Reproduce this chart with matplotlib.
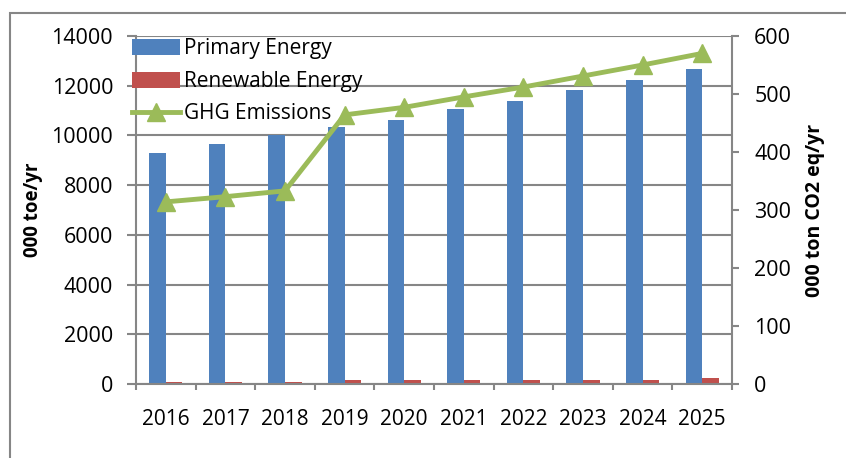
import numpy as np
import matplotlib.pyplot as plt
from matplotlib.patches import Rectangle

# Data
years = ["2016", "2017", "2018", "2019", "2020", "2021", "2022", "2023", "2024", "2025"]
primary_energy = [9300, 9650, 10000, 10350, 10620, 11070, 11400, 11830, 12230, 12670]
renewable_energy = [80, 80, 80, 160, 160, 160, 160, 160, 160, 255]
ghg_emissions = [314, 323, 333, 464, 477, 495, 512, 531, 550, 570]

blue = "#4F81BD"
red = "#C0504D"
green = "#9BBB59"
grey = "#868686"

plt.rcParams["font.family"] = ["Open Sans", "DejaVu Sans"]

fig = plt.figure(figsize=(8.46, 4.58), dpi=100)
W, H = 846, 458

# Outer chart frame (partially off the image on the right/bottom)
fig.patches.append(Rectangle((10 / W, -0.1), 1.2, 1 - 13 / H + 0.1,
                             transform=fig.transFigure, fill=False,
                             edgecolor=grey, lw=1.5))

ax = fig.add_axes([136 / W, 1 - 384 / H, (732 - 136) / W, (384 - 36) / H])
x = np.arange(len(years))
w = 0.28
b1 = ax.bar(x - w / 2, primary_energy, w, color=blue, label="Primary Energy", zorder=2)
b2 = ax.bar(x + w / 2, renewable_energy, w, color=red, label="Renewable Energy", zorder=2)

ax.set_xlim(-0.5, len(years) - 0.5)
ax.set_ylim(0, 14000)
ax.set_yticks(np.arange(0, 14001, 2000))
ax.set_xticks(x)
ax.set_xticklabels(years)
ax.set_xticks(np.arange(-0.5, len(years), 1), minor=True)
ax.tick_params(axis="x", which="major", length=0, pad=18, labelsize=15)
ax.tick_params(axis="x", which="minor", length=4.5, width=1.5, color=grey)
ax.tick_params(axis="y", length=6.5, width=1.5, color=grey, labelsize=15.5, pad=10)
ax.grid(axis="y", color=grey, lw=1.5, zorder=0)
ax.set_axisbelow(True)
for s in ["top", "right"]:
    ax.spines[s].set_visible(False)
for s in ["left", "bottom"]:
    ax.spines[s].set_color(grey)
    ax.spines[s].set_linewidth(1.5)
ax.set_ylabel("000 toe/yr", fontsize=13.5, fontweight="bold", labelpad=6)

ax2 = ax.twinx()
ln, = ax2.plot(x, ghg_emissions, color=green, lw=3.5, marker="^", ms=13,
               label="GHG Emissions", zorder=3)
ax2.set_ylim(0, 600)
ax2.set_yticks(np.arange(0, 601, 100))
ax2.tick_params(axis="y", length=5, width=1.5, color=grey, labelsize=15.5, pad=11)
for s in ["top", "left", "bottom"]:
    ax2.spines[s].set_visible(False)
ax2.spines["right"].set_color(grey)
ax2.spines["right"].set_linewidth(1.5)
ax2.set_ylabel("000 ton CO2 eq/yr", fontsize=14, fontweight="bold", labelpad=10)

ax2.legend([b1, b2, ln], ["Primary Energy", "Renewable Energy", "GHG Emissions"],
           loc="upper left", bbox_to_anchor=(124 / W, 1 - 30 / H),
           bbox_transform=fig.transFigure, frameon=False, fontsize=15,
           handlelength=2.3, handleheight=0.8, handletextpad=0.2, labelspacing=0.55,
           borderaxespad=0)

fig.savefig("out.png", dpi=100)
